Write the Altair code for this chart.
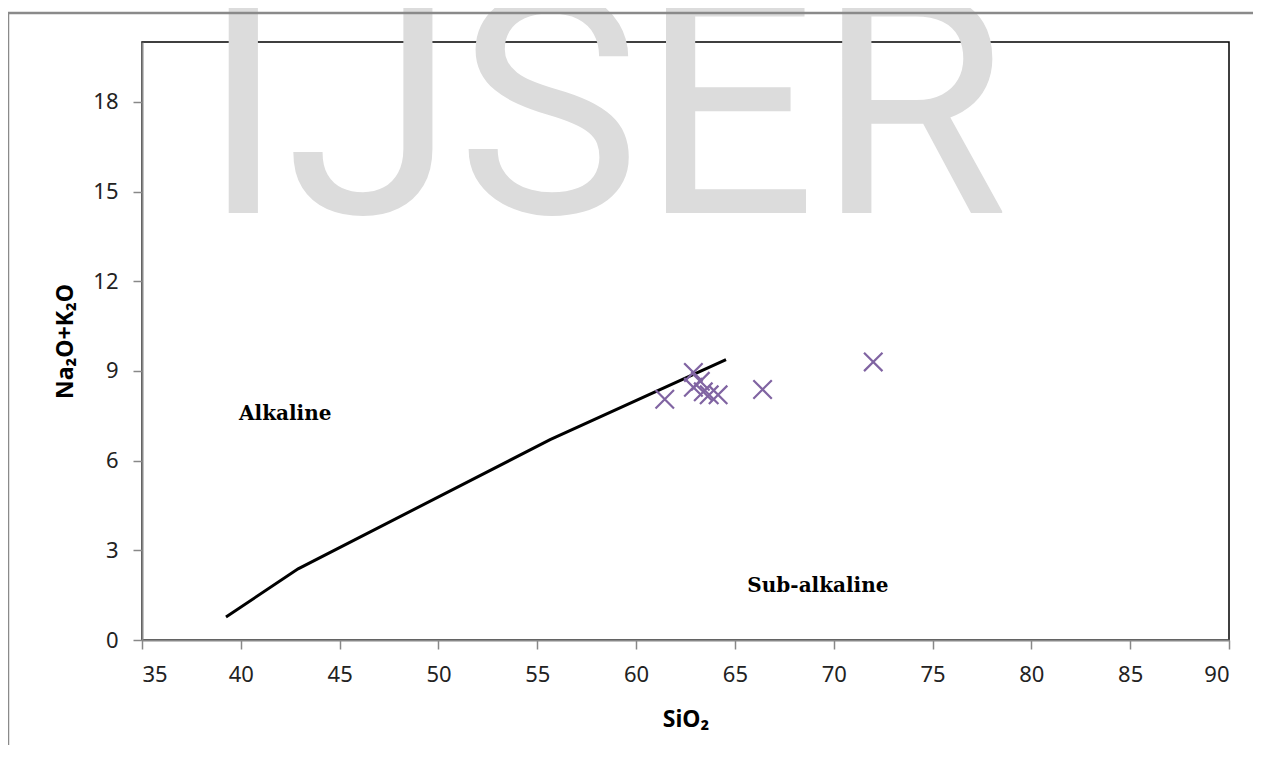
import altair as alt
import pandas as pd

# Sample compositions (crosses)
sio2 = [61.45, 62.9, 63.25, 62.9, 63.4, 63.7, 64.15, 66.4, 72.0]
alkali = [8.05, 8.95, 8.65, 8.45, 8.3, 8.2, 8.2, 8.38, 9.3]

# Alkaline / sub-alkaline dividing line
line_x = [39.25, 42.9, 55.65, 64.55]
line_y = [0.77, 2.38, 6.70, 9.38]

# Field labels
label_text = ["Alkaline", "Sub-alkaline"]
label_x = [42.25, 69.2]
label_y = [7.35, 1.6]

x_ticks = [35, 40, 45, 50, 55, 60, 65, 70, 75, 80, 85, 90]
y_ticks = [0, 3, 6, 9, 12, 15, 18]

pts = pd.DataFrame({"x": sio2, "y": alkali})
ln = pd.DataFrame({"x": line_x, "y": line_y, "o": list(range(len(line_x)))})
lab = pd.DataFrame({"x": label_x, "y": label_y, "t": label_text})
one = pd.DataFrame({"a": [0]})

xs = alt.Scale(domain=[35, 90], nice=False, zero=False)
ys = alt.Scale(domain=[0, 20], nice=False)

FONT = "Noto Sans"

x_axis = alt.Axis(values=x_ticks, title="SiO₂", grid=False, labelFontSize=22,
                  labelFont=FONT, labelColor="#222", labelPadding=15, tickSize=9,
                  tickColor="#888", domainColor="#888", domainWidth=2, tickWidth=1.5,
                  titleFont=FONT, titleFontSize=23, titleFontWeight="bold",
                  titleColor="#000", titleBaseline="alphabetic", titleY=86)
y_axis = alt.Axis(values=y_ticks, title="Na₂O+K₂O", grid=False, labelFontSize=22,
                  labelFont=FONT, labelColor="#222", labelPadding=15, tickSize=9,
                  tickColor="#888", domainColor="#888", domainWidth=2, tickWidth=1.5,
                  titleFont=FONT, titleFontSize=23, titleFontWeight="bold",
                  titleColor="#000", titleBaseline="alphabetic", titleX=-70)

watermark = alt.Chart(one).mark_text(
    text="IJSER", fontSize=310, font="Roboto", color="#dcdcdc",
    align="left", baseline="alphabetic"
).encode(x=alt.value(59), y=alt.value(171))

frame = alt.Chart(one).mark_rect(
    filled=False, stroke="#8a8a8a", strokeWidth=2.5
).encode(x=alt.value(-134), x2=alt.value(1140), y=alt.value(-29), y2=alt.value(760))

line = alt.Chart(ln).mark_line(color="#000", strokeWidth=3).encode(
    x=alt.X("x:Q", scale=xs, axis=x_axis),
    y=alt.Y("y:Q", scale=ys, axis=y_axis),
    order="o:Q",
)

cross_path = "M-1,-1L1,1M-1,1L1,-1"
points = alt.Chart(pts).mark_point(
    shape=cross_path, size=340, filled=False, color="#8064A2", strokeWidth=2.2, opacity=1
).encode(x=alt.X("x:Q", scale=xs), y=alt.Y("y:Q", scale=ys))

labels = alt.Chart(lab).mark_text(
    font="DejaVu Serif", fontWeight="bold", fontSize=20, color="#000",
    align="center", baseline="alphabetic"
).encode(x=alt.X("x:Q", scale=xs), y=alt.Y("y:Q", scale=ys), text="t:N")

chart = alt.layer(watermark, frame, line, points, labels).properties(
    width=1087, height=598,
    autosize=alt.AutoSizeParams(type="none"),
    padding={"left": 134, "top": 34, "right": 24, "bottom": 105},
).configure_view(stroke="#000", strokeWidth=1.5)

chart.save("out.html", embed_options={"renderer": "svg", "actions": False})
